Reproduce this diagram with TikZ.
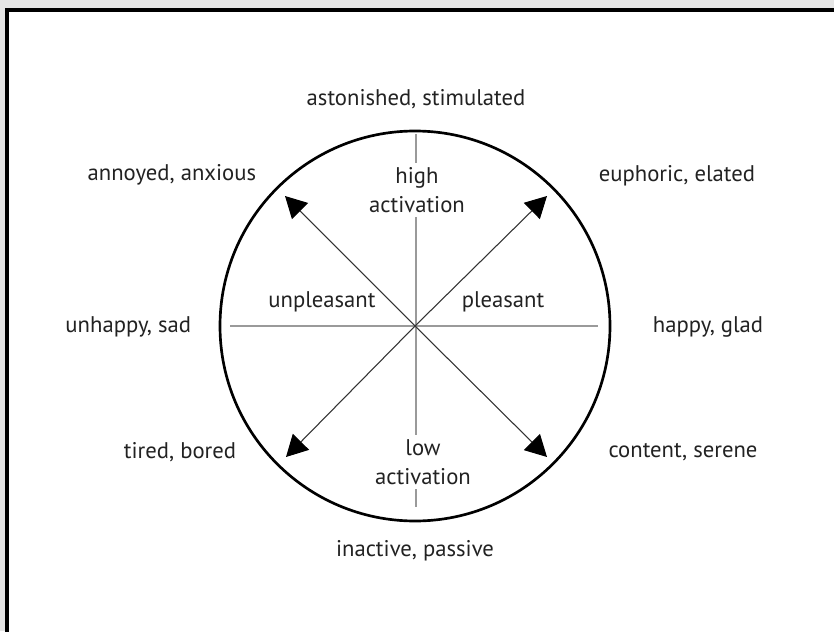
\documentclass[tikz,border=0pt]{standalone}
\usepackage{fontspec}
\setmainfont{PT Sans}
\usetikzlibrary{arrows.meta, positioning}

\definecolor{inkgray}{HTML}{222222}
\definecolor{axisgray}{HTML}{9A9A9A}

\begin{document}
\begin{tikzpicture}[x=0.75pt, y=-0.75pt,
    mood/.style={text=inkgray, font=\fontsize{17}{22}\selectfont, inner sep=2pt},
    pole/.style={mood, align=center, fill=white, inner sep=3pt},
    axis/.style={axisgray, line width=1pt},
    vec/.style={black!80, line width=0.8pt,
        -{Triangle[length=16pt, width=17pt, color=black, fill=black]}}]
    \useasboundingbox (0,0) rectangle (834,631);
    % page and frame
    \fill[black!10] (0,0) rectangle (834,631);
    \draw[line width=2.4pt, fill=white] (7,10) rectangle (850,650);

    % centre and the circle
    \coordinate (c) at (415,326);
    \draw[line width=2pt] (c) circle (195);

    % the two axes
    \coordinate (vtop) at (416,134);
    \coordinate (vbot) at (416,507);
    \coordinate (hleft) at (230,326);
    \coordinate (hright) at (598,326);
    \draw[axis] (vtop) -- (vbot);
    \draw[axis] (hleft) -- (hright);

    % arrow tips
    \coordinate (ne) at (547,196);
    \coordinate (nw) at (285,196);
    \coordinate (sw) at (286,457);
    \coordinate (se) at (547,457);
    \foreach \t in {ne, nw, sw, se}
        \draw[vec] (c) -- (\t);

    % labels inside
    \node (high) [pole] at (417,190) {high\\activation};
    \node (low) [pole] at (423,462) {low\\activation};
    \node (unpl) [mood] at (322,302) {unpleasant};
    \node (pl) [mood] at (503,302) {pleasant};

    % labels outside
    \node (aston) [mood] at (416,99) {astonished, stimulated};
    \node (annoy) [mood, anchor=east] at (259,175) {annoyed, anxious};
    \node (euph) [mood] at (677,176) {euphoric, elated};
    \node (unhap) [mood, anchor=east] at (194,327) {unhappy, sad};
    \node (happy) [mood] at (708,327) {happy, glad};
    \node (tired) [mood] at (180,452) {tired, bored};
    \node (cont) [mood] at (683,452) {content, serene};
    \node (inact) [mood] at (415,551) {inactive, passive};
\end{tikzpicture}
\end{document}
